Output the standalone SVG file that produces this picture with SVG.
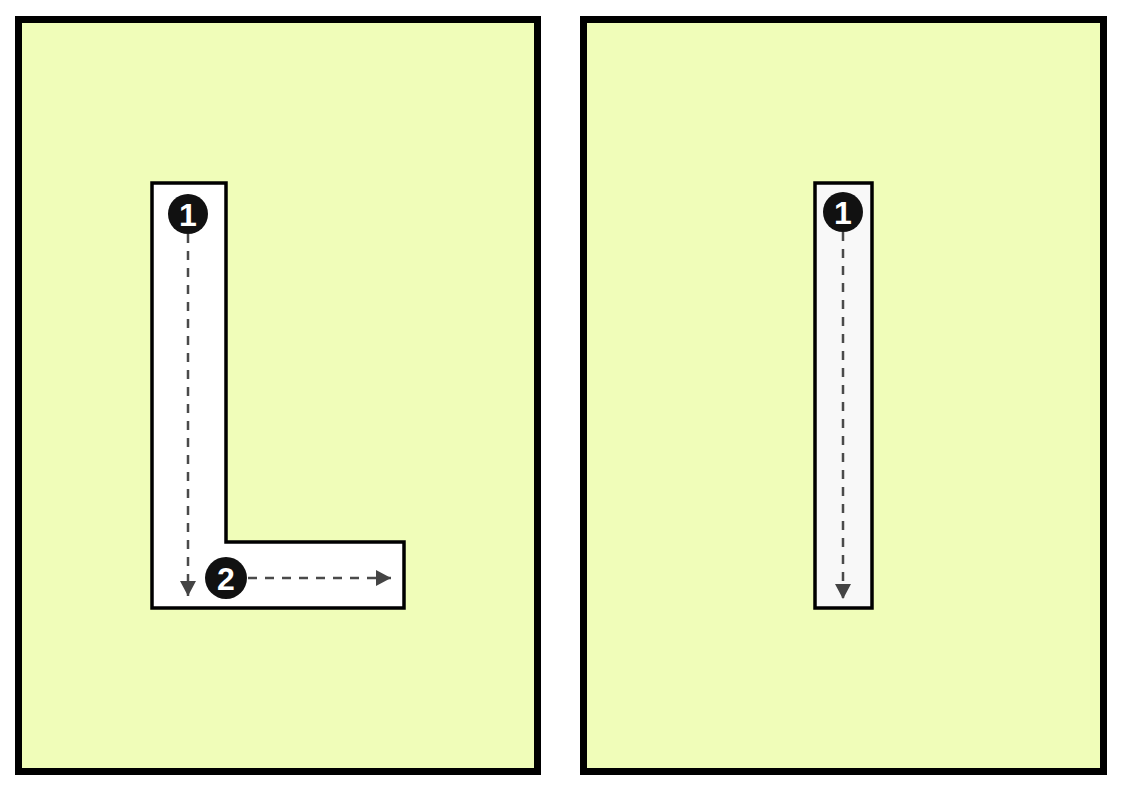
<svg xmlns="http://www.w3.org/2000/svg" width="1122" height="793" viewBox="0 0 1122 793">
<style>
.panel{fill:#f0fdb9;stroke:#000;stroke-width:7}
.shape{stroke:#000;stroke-width:3.5}
.badge{fill:#111}
.num{fill:#fff;font-family:"Liberation Sans",Arial,sans-serif;font-weight:bold;font-size:32px;text-anchor:middle}
.dash{fill:none;stroke:#4a4a4a;stroke-width:2.5;stroke-dasharray:9 8}
</style>
<defs>
<marker id="arrd" markerWidth="16" markerHeight="16" refX="15" refY="8" orient="auto" markerUnits="userSpaceOnUse">
<path d="M0,0 L15,8 L0,16 Z" fill="#444"/>
</marker>
</defs>
<g id="panel-left">
<rect class="panel" x="18.5" y="19.5" width="519" height="752"/>
</g>
<g id="panel-right">
<rect class="panel" x="583.5" y="19.5" width="520" height="752"/>
</g>
<g id="shape-L">
<path class="shape" fill="#fff" d="M152,183 L226,183 L226,542 L404,542 L404,608 L152,608 Z"/>
</g>
<g id="shape-I">
<rect class="shape" fill="#f8f8f8" x="815" y="183" width="57" height="425"/>
</g>
<g id="connectors">
<line class="dash" x1="188" y1="234" x2="188" y2="596" marker-end="url(#arrd)"/>
<line class="dash" x1="248" y1="578" x2="391" y2="578" marker-end="url(#arrd)"/>
<line class="dash" x1="843" y1="232" x2="843" y2="599" marker-end="url(#arrd)"/>
</g>
<g id="badge-L1">
<circle class="badge" cx="188" cy="214" r="20"/>
<text class="num" x="188" y="225.5">1</text>
</g>
<g id="badge-L2">
<circle class="badge" cx="226" cy="578" r="21"/>
<text class="num" x="226" y="589.5">2</text>
</g>
<g id="badge-I1">
<circle class="badge" cx="843" cy="212" r="20"/>
<text class="num" x="843" y="223.5">1</text>
</g>
</svg>
